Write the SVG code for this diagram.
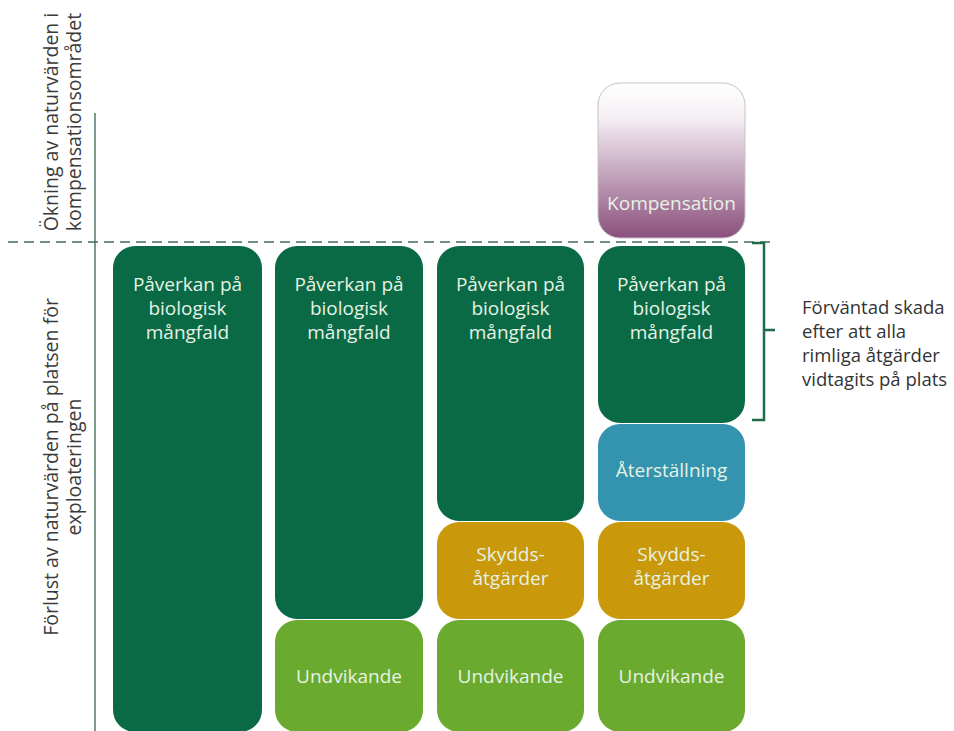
<svg xmlns="http://www.w3.org/2000/svg" width="954" height="731" viewBox="0 0 954 731">
<defs>
<linearGradient id="komp" x1="0" y1="0" x2="0" y2="1">
<stop offset="0" stop-color="#ffffff"/>
<stop offset="0.22" stop-color="#f6f0f5"/>
<stop offset="1" stop-color="#8a4f7c"/>
</linearGradient>
<style>
.dk{fill:#0a6a45}
.lg{fill:#6aab2f}
.gd{fill:#c9980b}
.bl{fill:#3493ae}
.bt{font-family:"Open Sans","Liberation Sans",sans-serif;font-size:19px;fill:#e6f2e4;text-anchor:middle}
.ax{font-family:"Open Sans","Liberation Sans",sans-serif;font-size:19.5px;fill:#3a3a3a;text-anchor:middle}
.rt{font-family:"Open Sans","Liberation Sans",sans-serif;font-size:18.5px;fill:#333333}
</style>
</defs>
<rect width="954" height="731" fill="#ffffff"/>

<g id="axes">
<line x1="95" y1="113" x2="95" y2="731" stroke="#4f7a66" stroke-width="1.5"/>
<line x1="8" y1="242" x2="776" y2="242" stroke="#3f6e5b" stroke-width="1.5" stroke-dasharray="10,6"/>
<text class="ax" transform="translate(58,122) rotate(-90)">Ökning av naturvärden i</text>
<text class="ax" transform="translate(81,122) rotate(-90)">kompensationsområdet</text>
<text class="ax" transform="translate(58,467) rotate(-90)">Förlust av naturvärden på platsen för</text>
<text class="ax" transform="translate(81,467) rotate(-90)">exploateringen</text>
</g>

<g id="col1-paverkan">
<rect class="dk" x="113" y="246" width="149" height="486" rx="22"/>
<text class="bt" x="187.5" y="291">Påverkan på</text>
<text class="bt" x="187.5" y="315">biologisk</text>
<text class="bt" x="187.5" y="339">mångfald</text>
</g>

<g id="col2-paverkan">
<rect class="dk" x="275" y="246" width="148" height="373" rx="22"/>
<text class="bt" x="349" y="291">Påverkan på</text>
<text class="bt" x="349" y="315">biologisk</text>
<text class="bt" x="349" y="339">mångfald</text>
</g>
<g id="col2-undvikande">
<rect class="lg" x="275" y="620" width="148" height="112" rx="22"/>
<text class="bt" x="349" y="683">Undvikande</text>
</g>

<g id="col3-paverkan">
<rect class="dk" x="437" y="246" width="147" height="275" rx="22"/>
<text class="bt" x="510.5" y="291">Påverkan på</text>
<text class="bt" x="510.5" y="315">biologisk</text>
<text class="bt" x="510.5" y="339">mångfald</text>
</g>
<g id="col3-skydd">
<rect class="gd" x="437" y="522" width="147" height="97" rx="22"/>
<text class="bt" x="510.5" y="561">Skydds-</text>
<text class="bt" x="510.5" y="585">åtgärder</text>
</g>
<g id="col3-undvikande">
<rect class="lg" x="437" y="620" width="147" height="112" rx="22"/>
<text class="bt" x="510.5" y="683">Undvikande</text>
</g>

<g id="col4-kompensation">
<rect x="598" y="83" width="147" height="155" rx="22" fill="url(#komp)" stroke="#c8c0c6" stroke-width="1"/>
<text class="bt" x="671.5" y="210">Kompensation</text>
</g>
<g id="col4-paverkan">
<rect class="dk" x="598" y="246" width="147" height="177" rx="22"/>
<text class="bt" x="671.5" y="291">Påverkan på</text>
<text class="bt" x="671.5" y="315">biologisk</text>
<text class="bt" x="671.5" y="339">mångfald</text>
</g>
<g id="col4-aterstallning">
<rect class="bl" x="598" y="424" width="147" height="97" rx="22"/>
<text class="bt" x="671.5" y="477">Återställning</text>
</g>
<g id="col4-skydd">
<rect class="gd" x="598" y="522" width="147" height="97" rx="22"/>
<text class="bt" x="671.5" y="561">Skydds-</text>
<text class="bt" x="671.5" y="585">åtgärder</text>
</g>
<g id="col4-undvikande">
<rect class="lg" x="598" y="620" width="147" height="112" rx="22"/>
<text class="bt" x="671.5" y="683">Undvikande</text>
</g>

<g id="connectors">
<path d="M752,243 H764 V420 H752 M764,330 H775" fill="none" stroke="#1f6b4b" stroke-width="2.5"/>
</g>

<g id="note">
<text class="rt" x="802" y="314">Förväntad skada</text>
<text class="rt" x="802" y="338">efter att alla</text>
<text class="rt" x="802" y="362">rimliga åtgärder</text>
<text class="rt" x="802" y="386">vidtagits på plats</text>
</g>
</svg>
